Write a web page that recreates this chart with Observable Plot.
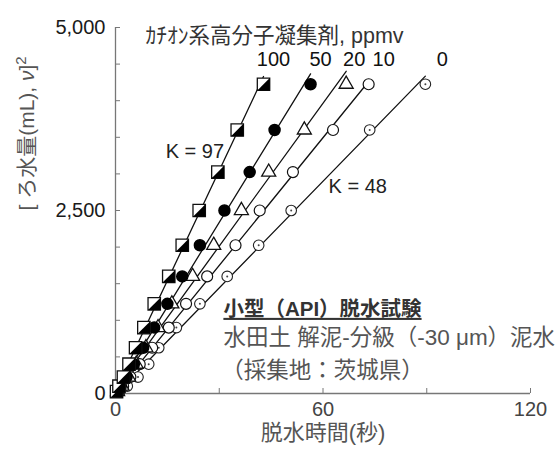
<!DOCTYPE html>
<html><head><meta charset="utf-8">
<script src="https://cdn.jsdelivr.net/npm/d3@7"></script>
<script src="https://cdn.jsdelivr.net/npm/@observablehq/plot@0.6"></script>
<style>body{margin:0;background:#fff}</style>
</head><body><div id="chart"></div>
<script>
// Flocculant dosages (ppmv) for each series
const dosages = ["100", "50", "20", "10", "0"];
// Squared filtrate volume levels (mL^2)
const vSquared = [25, 100, 225, 400, 625, 900, 1225, 1600, 2025, 2500, 3025, 3600, 4225];
// Dewatering time (s) at each level, per series
const time100 = [0.3, 1.0, 2.3, 3.9, 5.8, 8.2, 11.2, 15.4, 19.3, 24.2, 29.6, 35.2, 42.8];
const time50  = [0.5, 1.5, 3.2, 5.3, 8.0, 11.2, 15.0, 19.3, 24.4, 31.5, 38.8, 46.0, 56.4];
const time20  = [0.6, 1.9, 3.8, 6.0, 8.8, 12.3, 16.3, 22.3, 28.4, 36.4, 44.3, 54.6, 66.7];
const time10  = [0.7, 2.2, 4.3, 7.0, 10.6, 15.4, 20.4, 26.5, 34.7, 41.7, 51.3, 62.9, 73.2];
const time0   = [1.2, 3.4, 6.5, 9.6, 12.5, 17.6, 24.4, 32.3, 41.4, 50.8, null, 73.5, 89.6];
const kLabels = ["K = 97", "K = 48"];
const legendTitle = "ｶﾁｵﾝ系高分子凝集剤, ppmv";
const noteLines = ["小型（API）脱水試験", "水田土 解泥-分級（-30 μm）泥水", "（採集地：茨城県）"];
const yTickLabels = [0, 2500, 5000];
const yTickMarks = [0, 500, 1000, 1500, 2000, 2500, 3000, 3500, 4000, 4500, 5000];
const xTickLabels = [0, 60, 120];
const xTickMarks = [0, 30, 60, 90, 120];
const xTitle = "脱水時間(秒)";
const yTitle = ["[ ろ水量(mL), ", "ν", "]", "2"];

const seriesTimes = [time100, time50, time20, time10, time0];
const data = [];
seriesTimes.forEach((arr, si) => arr.forEach((t, i) => {
  if (t != null) data.push({series: dosages[si], t, v2: vSquared[i]});
}));
const bySeries = s => data.filter(d => d.series === s);
const tops = dosages.map(s => { const a = bySeries(s); return a[a.length - 1]; });

const lowerRightTri = {draw(ctx, size) { const s = Math.sqrt(size) / 2; ctx.moveTo(s, -s); ctx.lineTo(s, s); ctx.lineTo(-s, s); ctx.closePath(); }};

const font = "'Liberation Sans', Arial, 'Noto Sans CJK JP', sans-serif";
const axisColor = "#777";
const labelDx = [10, 10, 8, 15, 17];

const plot = Plot.plot({
  width: 558, height: 449,
  marginLeft: 115, marginRight: 28, marginTop: 27, marginBottom: 56,
  x: {domain: [0, 120]},
  y: {domain: [0, 5000]},
  style: {fontFamily: font, fontSize: "20px", background: "#fff", overflow: "visible"},
  marks: [
    Plot.ruleX([0], {stroke: axisColor, strokeWidth: 1.3}),
    Plot.ruleY([0], {stroke: axisColor, strokeWidth: 1.3}),
    Plot.axisY({ticks: yTickMarks, tickSize: -5, tickFormat: () => "", stroke: axisColor, label: null}),
    Plot.axisX({ticks: xTickMarks, tickSize: -5, tickFormat: () => "", stroke: axisColor, label: null}),
    Plot.axisY({ticks: yTickLabels, tickSize: 0, tickPadding: 10, tickFormat: d3.format(","), fill: "#1a1a1a", label: null}),
    Plot.axisX({ticks: xTickLabels, tickSize: 0, tickPadding: 8, fill: "#444", label: null}),
    Plot.linearRegressionY(data, {x: "t", y: "v2", z: "series", stroke: "#111", strokeWidth: 1.3, ci: 0}),
    // 0 ppmv: open circle with centre dot
    Plot.dot(bySeries("0"), {x: "t", y: "v2", r: 5.3, fill: "white", stroke: "#222", strokeWidth: 1.1}),
    Plot.dot(bySeries("0"), {x: "t", y: "v2", r: 1, fill: "#444"}),
    // 10 ppmv: open circle
    Plot.dot(bySeries("10"), {x: "t", y: "v2", r: 5.5, fill: "white", stroke: "#111", strokeWidth: 1.2}),
    // 20 ppmv: open triangle
    Plot.dot(bySeries("20"), {x: "t", y: "v2", r: 5.2, symbol: "triangle", fill: "white", stroke: "#111", strokeWidth: 1.3}),
    // 50 ppmv: filled circle
    Plot.dot(bySeries("50"), {x: "t", y: "v2", r: 5.5, fill: "#000", stroke: "#000"}),
    // 100 ppmv: half-filled square
    Plot.dot(bySeries("100"), {x: "t", y: "v2", r: 7, symbol: "square", fill: "white", stroke: "#111", strokeWidth: 1.3}),
    Plot.dot(bySeries("100"), {x: "t", y: "v2", r: 7, symbol: lowerRightTri, fill: "#000"}),
    // series labels above the top points
    ...tops.map((d, i) => Plot.text([d], {x: "t", y: "v2", text: "series", dx: labelDx[i], dy: -25, fill: "#111"})),
    Plot.text([legendTitle], {x: 8.7, y: 4880, text: d => d, textAnchor: "start", fill: "#333", fontSize: 21.5}),
    Plot.text([kLabels[0]], {x: 14.5, y: 3306, text: d => d, textAnchor: "start", fill: "#222"}),
    Plot.text([kLabels[1]], {x: 61.6, y: 2828, text: d => d, textAnchor: "start", fill: "#222"}),
    Plot.text([noteLines[0]], {x: 31.2, y: 1150, text: d => d, textAnchor: "start", fill: "#333", fontWeight: "bold", fontSize: 20.5}),
    Plot.text([noteLines[1]], {x: 31.2, y: 755, text: d => d, textAnchor: "start", fill: "#555", fontSize: 22.5}),
    Plot.text([noteLines[2]], {x: 30.6, y: 310, text: d => d, textAnchor: "start", fill: "#555", fontSize: 22.5}),
    Plot.text([xTitle], {frameAnchor: "bottom", dy: 39, lineAnchor: "middle", text: d => d, fill: "#555", fontSize: 22}),
    Plot.text([yTitle.join("")], {frameAnchor: "left", dx: -88, rotate: -90, lineAnchor: "middle", text: d => d, fill: "#555", fontSize: 21})
  ]
});
document.getElementById("chart").appendChild(plot);
const svg = d3.select(plot);
svg.selectAll("text").filter(function() { return this.textContent === noteLines[0]; })
  .style("text-decoration", "underline");
svg.selectAll("text").filter(function() { return this.textContent === yTitle.join(""); })
  .each(function() {
    const t = d3.select(this);
    t.text(null);
    t.append("tspan").text(yTitle[0]);
    t.append("tspan").attr("font-style", "italic").text(yTitle[1]);
    t.append("tspan").text(yTitle[2]);
    t.append("tspan").attr("dy", "-0.55em").attr("font-size", "15").text(yTitle[3]);
  });
</script>
</body></html>
